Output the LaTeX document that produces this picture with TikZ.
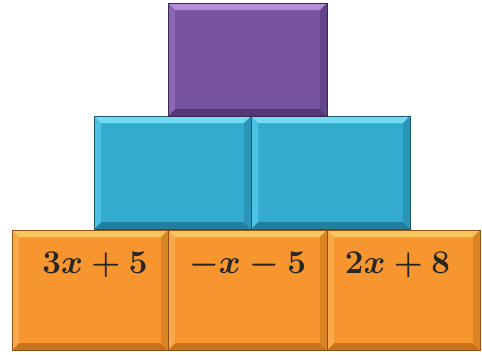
\documentclass[tikz,border=0pt]{standalone}
\usepackage{amsmath}
\usepackage{graphicx}
\definecolor{or}{HTML}{F7952E}
\definecolor{orT}{HTML}{F8C65E}
\definecolor{orB}{HTML}{C9741C}
\definecolor{orL}{HTML}{F9A94A}
\definecolor{orR}{HTML}{DA8424}
\definecolor{cy}{HTML}{33ACCF}
\definecolor{cyT}{HTML}{72DCF2}
\definecolor{cyB}{HTML}{22809E}
\definecolor{cyL}{HTML}{4DC2E2}
\definecolor{cyR}{HTML}{2A95B6}
\definecolor{pu}{HTML}{7854A0}
\definecolor{puT}{HTML}{B68DDA}
\definecolor{puB}{HTML}{553776}
\definecolor{puL}{HTML}{8C67B6}
\definecolor{puR}{HTML}{65458A}
\newcommand\biglbl[1]{\scalebox{1.6}{\fontsize{20}{24}\selectfont\boldmath$#1$}}
\tikzset{
  bev/.style={draw=#1B!70!black, line width=0.6pt, fill=#1, inner sep=0pt,
    path picture={
      \coordinate (nw) at (path picture bounding box.north west);
      \coordinate (ne) at (path picture bounding box.north east);
      \coordinate (sw) at (path picture bounding box.south west);
      \coordinate (se) at (path picture bounding box.south east);
      \fill[#1T] (nw) -- (ne) -- ([shift={(-7pt,-7pt)}]ne) -- ([shift={(7pt,-7pt)}]nw) -- cycle;
      \fill[#1B] (sw) -- (se) -- ([shift={(-7pt,7pt)}]se) -- ([shift={(7pt,7pt)}]sw) -- cycle;
      \fill[#1L] (nw) -- ([shift={(7pt,-7pt)}]nw) -- ([shift={(7pt,7pt)}]sw) -- (sw) -- cycle;
      \fill[#1R] (ne) -- ([shift={(-7pt,-7pt)}]ne) -- ([shift={(-7pt,7pt)}]se) -- (se) -- cycle;
    }},
  lbl/.style={anchor=north, inner sep=0pt, text=black!85}
}
\begin{document}
\begin{tikzpicture}[x=1pt,y=-1pt]
\useasboundingbox (0,0) rectangle (482,354);
% bottom row
\node[bev=or, minimum width=156pt, minimum height=120pt] (b1) at (90,290) {};
\node[bev=or, minimum width=159pt, minimum height=120pt] (b2) at (247.5,290) {};
\node[bev=or, minimum width=153pt, minimum height=120pt] (b3) at (403.5,290) {};
% middle row
\node[bev=cy, minimum width=157pt, minimum height=113pt] (m1) at (172.5,172.5) {};
\node[bev=cy, minimum width=159pt, minimum height=113pt] (m2) at (330.5,172.5) {};
% top
\node[bev=pu, minimum width=159pt, minimum height=113pt] (t1) at (247.5,59.5) {};
% labels
\node[lbl] (l1) at ([xshift=5pt,yshift=-22pt]b1.north) {\biglbl{3x+5}};
\node[lbl] (l2) at ([yshift=-22pt]b2.north) {\biglbl{-x-5}};
\node[lbl] (l3) at ([xshift=-6pt,yshift=-22pt]b3.north) {\biglbl{2x+8}};
\end{tikzpicture}
\end{document}
